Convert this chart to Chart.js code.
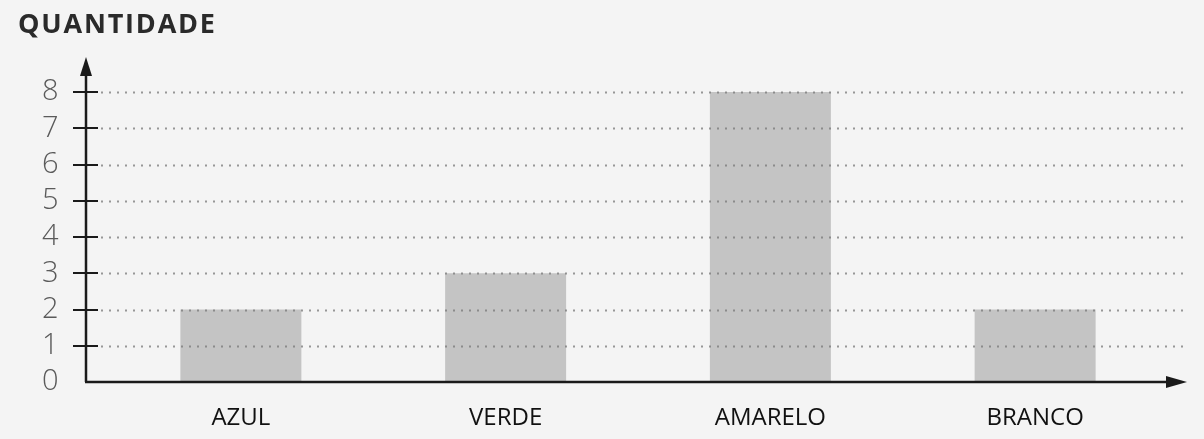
<!DOCTYPE html>
<html>
<head>
<meta charset="utf-8">
<script src="https://cdn.jsdelivr.net/npm/chart.js@4"></script>
<style>
  html, body { margin: 0; padding: 0; background: #f4f4f4; }
  #wrap { width: 1204px; height: 439px; }
</style>
</head>
<body>
<div id="wrap"><canvas id="myChart"></canvas></div>
<script>
/* global Chart */

const categories = ["AZUL", "VERDE", "AMARELO", "BRANCO"];
const quantities = [2, 3, 8, 2];
const yTicks = [0, 1, 2, 3, 4, 5, 6, 7, 8];
const yTitle = "QUANTIDADE";

// axes with arrows, tick marks and dotted grid
const axesPlugin = {
  id: "axesPlugin",
  afterDatasetsDraw(chart) {
    const ctx = chart.ctx;
    const y = chart.scales.y;
    const axisX = 86;
    const axisY = y.getPixelForValue(0);

    ctx.save();
    // dotted grid
    ctx.strokeStyle = "rgba(120,120,120,0.75)";
    ctx.lineWidth = 2;
    ctx.setLineDash([2, 6]);
    yTicks.forEach(function (v) {
      if (v === 0) return;
      const py = Math.round(y.getPixelForValue(v)) + 0.5;
      ctx.beginPath();
      ctx.moveTo(101, py);
      ctx.lineTo(1186, py);
      ctx.stroke();
    });
    ctx.setLineDash([]);

    // tick marks
    ctx.strokeStyle = "#1a1a1a";
    ctx.lineWidth = 2;
    yTicks.forEach(function (v) {
      if (v === 0) return;
      const py = Math.round(y.getPixelForValue(v));
      ctx.beginPath();
      ctx.moveTo(73, py);
      ctx.lineTo(98, py);
      ctx.stroke();
    });

    // axis lines
    ctx.lineWidth = 2.5;
    ctx.beginPath();
    ctx.moveTo(axisX, axisY);
    ctx.lineTo(axisX, 70);
    ctx.moveTo(axisX - 1, axisY);
    ctx.lineTo(1172, axisY);
    ctx.stroke();

    // arrow heads
    ctx.fillStyle = "#1a1a1a";
    ctx.beginPath();
    ctx.moveTo(axisX, 57);
    ctx.lineTo(axisX - 6, 76);
    ctx.lineTo(axisX + 6, 76);
    ctx.closePath();
    ctx.fill();
    ctx.beginPath();
    ctx.moveTo(1187, axisY);
    ctx.lineTo(1166, axisY - 6);
    ctx.lineTo(1166, axisY + 6);
    ctx.closePath();
    ctx.fill();

    // axis title
    ctx.fillStyle = "#2a2a2a";
    ctx.font = "bold 27px 'Open Sans'";
    ctx.letterSpacing = "1.8px";
    ctx.textBaseline = "alphabetic";
    ctx.textAlign = "left";
    ctx.fillText(yTitle, 18, 33);
    ctx.restore();
  },
};

var ctx = document.getElementById("myChart").getContext("2d");
var myChart = new Chart(ctx, {
  type: "bar",
  data: {
    labels: categories,
    datasets: [
      {
        label: yTitle,
        data: quantities,
        backgroundColor: "#c4c4c4",
        borderWidth: 0,
        categoryPercentage: 1,
        barPercentage: 0.457,
      },
    ],
  },
  options: {
    responsive: true,
    maintainAspectRatio: false,
    animation: false,
    layout: {
      padding: { left: 0, right: 36.5, top: 92, bottom: 0 },
    },
    plugins: {
      legend: { display: false },
      tooltip: { enabled: false },
    },
    scales: {
      x: {
        offset: true,
        border: { display: false },
        grid: { display: false, drawTicks: false },
        ticks: {
          color: "#111",
          padding: 22,
          font: { family: "'Open Sans'", size: 24 },
        },
        afterFit: function (scale) {
          scale.height = 57;
        },
      },
      y: {
        min: 0,
        max: 8,
        border: { display: false },
        grid: { display: false, drawTicks: false },
        ticks: {
          stepSize: 1,
          autoSkip: false,
          color: "#5a5a5a",
          padding: 50,
          font: { family: "'Open Sans'", size: 29, weight: "300" },
        },
        afterFit: function (scale) {
          scale.width = 108.5;
          scale.paddingTop = 0;
          scale.paddingBottom = 0;
        },
      },
    },
  },
  plugins: [axesPlugin],
});
</script>
</body>
</html>
